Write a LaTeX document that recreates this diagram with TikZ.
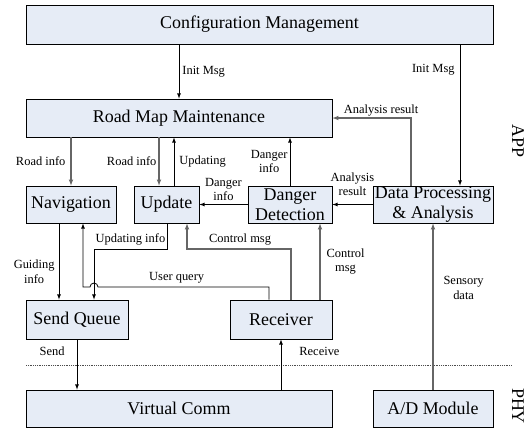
\documentclass[tikz,border=0pt]{standalone}
\usepackage{fontspec}
\setmainfont{Liberation Serif}
\definecolor{boxfill}{HTML}{E6ECF6}

\begin{document}
\begin{tikzpicture}[x=1bp,y=-1bp,>=latex,
        box/.style={draw=black, line width=0.8bp, fill=boxfill, inner sep=0pt, align=center,
            font=\fontsize{18}{19.5}\selectfont},
        lbl/.style={inner sep=0pt, align=center, font=\fontsize{12.5}{15}\selectfont},
        bline/.style={draw=black, line width=0.8bp},
        gline/.style={draw=black!60, line width=1.1bp}]
        \useasboundingbox (0,0) rectangle (532,428);

        % boxes
        \node[box, minimum width=467bp, minimum height=39bp] (cfg) at (259.5,24.5) {Configuration Management};
        \node[box, minimum width=306bp, minimum height=38bp] (rmm) at (179,118) {Road Map Maintenance};
        \node[box, minimum width=90bp, minimum height=37bp] (nav) at (71,204.5) {Navigation};
        \node[box, minimum width=65bp, minimum height=37bp] (upd) at (166.5,204.5) {Update};
        \node[box, minimum width=84bp, minimum height=37bp] (dd) at (290,204.5) {Danger\\Detection};
        \node[box, minimum width=120bp, minimum height=37bp] (dp) at (433,204.5) {Data Processing\\\& Analysis};
        \node[box, minimum width=102bp, minimum height=39bp] (sq) at (77,319.5) {Send Queue};
        \node[box, minimum width=102bp, minimum height=39bp] (rcv) at (281,319.5) {Receiver};
        \node[box, minimum width=306bp, minimum height=37bp] (vc) at (179,408.5) {Virtual Comm};
        \node[box, minimum width=120bp, minimum height=37bp] (ad) at (433,408.5) {A/D Module};

        % layers
        \draw[densely dotted, black!70, line width=0.8bp] (26,365) -- (512,365);
        \node[rotate=-90, inner sep=0pt, font=\fontsize{18}{19.5}\selectfont] (app) at (518,141) {APP};
        \node[rotate=-90, inner sep=0pt, font=\fontsize{18}{19.5}\selectfont] (phy) at (518,406) {PHY};

        % init and results
        \draw[bline,->] (cfg.south -| rmm.north) -- node[lbl, anchor=west, xshift=3bp] {Init Msg} (rmm.north);
        \draw[bline,->] (cfg.south -| 460,0) -- node[lbl, pos=0.18, anchor=east, xshift=-5bp] {Init Msg} (460,0 |- dp.north);
        \draw[gline,->] (dp.north -| 411,0) |- node[lbl, pos=0.69, anchor=south, yshift=1.5bp] {Analysis result} (rmm.east);
        \draw[bline,->] (dp.west) -- node[lbl, anchor=south, yshift=8bp] {Analysis\\result} (dd.east);

        % road map links
        \draw[gline,->] (rmm.south -| nav.north) -- node[lbl, anchor=east, xshift=-5bp] {Road info} (nav.north);
        \draw[gline,->] (rmm.south -| 159,0) -- node[lbl, anchor=east, xshift=-2bp] {Road info} (159,0 |- upd.north);
        \draw[bline,->] (174,0 |- upd.north) -- node[lbl, anchor=west, xshift=5bp] {Updating} (174,0 |- rmm.south);
        \draw[bline,->] (dd.north) -- node[lbl, anchor=east, xshift=-2bp] {Danger\\info} (rmm.south -| dd.north);
        \draw[bline,->] (dd.west) -- node[lbl, anchor=south, yshift=3bp] {Danger\\info} (upd.east);

        % lower links
        \draw[gline,->] (ad.north) -- node[lbl, pos=0.61, anchor=west, xshift=10bp] {Sensory\\data} (dp.south);
        \draw[gline,->] (rcv.north -| 320,0) -- node[lbl, anchor=west, xshift=6bp] {Control\\msg} (dd.south -| 320,0);
        \draw[gline,->] (rcv.north -| 291,0) -- (291,249) -| node[lbl, pos=0.245, anchor=south, yshift=3bp] {Control msg} (upd.south -| 187,0);
        \draw[bline,->] (upd.south -| 167,0) -- (167,249) -| node[lbl, pos=0.25, anchor=south, yshift=3bp] {Updating info} (sq.north -| 94,0);
        \draw[bline,->] (rcv.north -| 269,0) |- node[lbl, pos=0.77, anchor=south, yshift=3bp] {User query} (98,287)
            arc[start angle=0, end angle=-180, radius=4] -| (nav.south -| 83,0);
        \draw[bline,->] (nav.south -| 59,0) -- node[lbl, pos=0.64, anchor=east, xshift=-4bp] {Guiding\\info} (sq.north -| 59,0);
        \draw[bline,->] (sq.south) -- node[lbl, pos=0.24, anchor=east, xshift=-12bp] {Send} (vc.north -| sq.south);
        \draw[bline,->] (vc.north -| rcv.south) -- node[lbl, pos=0.76, anchor=west, xshift=18bp] {Receive} (rcv.south);
    \end{tikzpicture}
\end{document}
